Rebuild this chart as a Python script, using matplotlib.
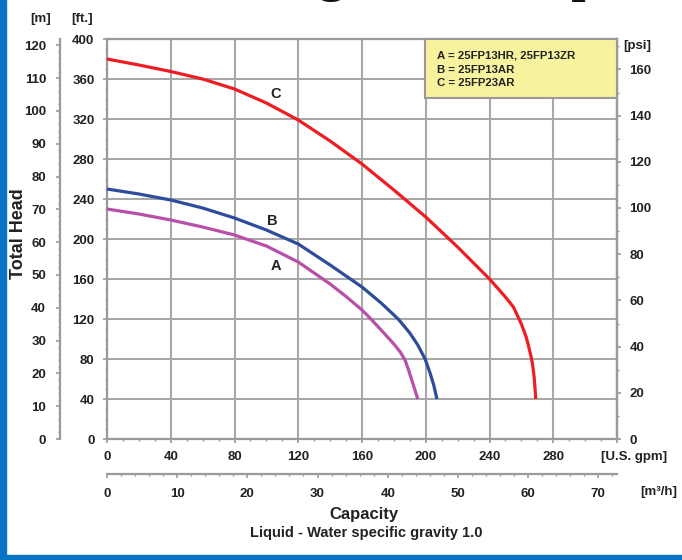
import matplotlib
matplotlib.use('Agg')
import matplotlib.pyplot as plt
from matplotlib.ticker import FixedLocator, FuncFormatter
from matplotlib.patches import Rectangle

plt.rcParams['font.family'] = ['Liberation Sans', 'DejaVu Sans']
plt.rcParams['font.weight'] = 'bold'

# ---- data (capacity in U.S. gpm, total head in ft) ----
gpm_A = [0, 20, 40, 60, 80, 100, 120, 130, 140, 150, 160, 165, 172, 180, 184, 187, 189, 191, 193, 195]
ft_A = [230, 225, 219, 212, 204, 193, 177, 166, 155, 142.5, 129, 121, 109, 95, 87, 79, 70, 60, 50, 40]

gpm_B = [0, 20, 40, 60, 80, 100, 120, 140, 160, 172, 182.7, 190, 195, 199.6, 202.7, 205, 207]
ft_B = [250, 245, 239, 231, 221, 209, 195, 174, 152, 136, 120, 106, 94, 80, 66, 54, 40]

gpm_C = [0, 20, 40, 60, 80, 100, 120, 140, 160, 180, 200, 220, 240, 250,
         255, 260, 263, 264.5, 266, 267, 268, 268.6, 269]
ft_C = [380, 374, 367.5, 360, 350, 336, 319, 298, 275, 249, 222, 192, 160, 142,
        132, 115, 102, 93, 83, 75, 62, 50, 40]

curve_names = ['A', 'B', 'C']
legend_lines = ['A = 25FP13HR, 25FP13ZR', 'B = 25FP13AR', 'C = 25FP23AR']
gpm_ticks = [0, 40, 80, 120, 160, 200, 240, 280]
ft_ticks = [0, 40, 80, 120, 160, 200, 240, 280, 320, 360, 400]
m_ticks = [0, 10, 20, 30, 40, 50, 60, 70, 80, 90, 100, 110, 120]
psi_ticks = [0, 20, 40, 60, 80, 100, 120, 140, 160]
m3h_ticks = [0, 10, 20, 30, 40, 50, 60, 70]

W, H = 682, 560
fig = plt.figure(figsize=(W / 100, H / 100), dpi=100)
fig.patch.set_facecolor('white')

def fx(x):
    return x / W

def fy(y):
    return 1 - y / H

# blue frame strips
fig.patches.append(Rectangle((0, 0), fx(6), 1, transform=fig.transFigure,
                             color='#0A74C4', zorder=0))
fig.patches.append(Rectangle((0, 0), 1, 5 / H, transform=fig.transFigure,
                             color='#0A74C4', zorder=0))

L, R, T, B = 107, 617, 39, 439
ax = fig.add_axes([fx(L), fy(B), (R - L) / W, (B - T) / H])
ax.set_xlim(0, 320)
ax.set_ylim(0, 400)

grey = '#9A9A9A'
txt = '#222222'
FS = 9.5

ax.xaxis.set_major_locator(FixedLocator(gpm_ticks + [320]))
ax.xaxis.set_minor_locator(FixedLocator(list(range(0, 321, 10))))
ax.yaxis.set_major_locator(FixedLocator(ft_ticks))
ax.yaxis.set_minor_locator(FixedLocator(list(range(0, 401, 10))))
ax.xaxis.set_major_formatter(FuncFormatter(
    lambda v, p: f'{int(round(v))}' if round(v) in gpm_ticks else ''))
ax.grid(which='major', color='#A8A8A8', lw=1.5, zorder=1)
ax.set_axisbelow(True)
for s in ax.spines.values():
    s.set_color(grey)
    s.set_linewidth(1.6)
ax.tick_params(axis='both', which='major', direction='out', length=3, width=1.2,
               color=grey, labelcolor=txt, labelsize=FS)
ax.tick_params(axis='both', which='minor', direction='out', length=1.5, width=1.0,
               color=grey)
ax.tick_params(axis='x', which='major', pad=6)
ax.tick_params(axis='y', which='major', pad=6)
ax.tick_params(right=False, top=False, which='both')

# curves
colors = {'A': '#B84FA8', 'B': '#2E4C9C', 'C': '#EE1D23'}
for gx, hy, name in [(gpm_A, ft_A, 'A'), (gpm_B, ft_B, 'B'), (gpm_C, ft_C, 'C')]:
    ax.plot(gx, hy, color=colors[name], lw=2.3, zorder=3, solid_capstyle='butt',
            solid_joinstyle='round')

ax.text(106, 173, 'A', ha='center', va='center', fontsize=10.5, color=txt, zorder=4)
ax.text(104, 218, 'B', ha='center', va='center', fontsize=10.5, color=txt, zorder=4)
ax.text(106, 345, 'C', ha='center', va='center', fontsize=10.5, color=txt, zorder=4)

# legend box
bx0 = (425 - L) / (R - L)
by0 = (B - 98) / (B - T)
ax.add_patch(Rectangle((bx0, by0), 1 - bx0, 1 - by0, transform=ax.transAxes,
                       facecolor='#F6F29E', edgecolor=grey, lw=1.5, zorder=5,
                       clip_on=False))
for i, line in enumerate(legend_lines):
    fig.text(fx(437), fy(56 + 13.6 * i), line, ha='left', va='center',
             fontsize=8.2, color=txt, zorder=6)

# psi axis (right)
psi = ax.secondary_yaxis('right', functions=(lambda f: f / 2.31, lambda p: p * 2.31))
psi.yaxis.set_major_locator(FixedLocator(psi_ticks))
psi.yaxis.set_minor_locator(FixedLocator(list(range(0, 171, 10))))
psi.tick_params(which='major', direction='out', length=3, width=1.2, color=grey,
                labelcolor=txt, labelsize=FS, pad=6)
psi.tick_params(which='minor', direction='out', length=1.5, width=1.0, color=grey)

# meter axis (far left)
mtr = ax.secondary_yaxis((60 - L) / (R - L),
                         functions=(lambda f: f * 0.3048, lambda m: m / 0.3048))
mtr.yaxis.set_major_locator(FixedLocator(m_ticks))
mtr.yaxis.set_minor_locator(FixedLocator(list(range(0, 121, 2))))
mtr.tick_params(which='major', direction='out', length=3, width=1.2, color=grey,
                labelcolor=txt, labelsize=FS, pad=7)
mtr.tick_params(which='minor', direction='out', length=1.5, width=1.0, color=grey)

# m3/h axis (second bottom)
m3 = ax.secondary_xaxis(-(474 - B) / (B - T),
                        functions=(lambda g: g * 0.22712, lambda q: q / 0.22712))
m3.xaxis.set_major_locator(FixedLocator(m3h_ticks))
m3.xaxis.set_minor_locator(FixedLocator(list(range(0, 73, 2))))
m3.tick_params(which='major', direction='out', length=3, width=1.2, color=grey,
               labelcolor=txt, labelsize=FS, pad=7)
m3.tick_params(which='minor', direction='out', length=1.5, width=1.0, color=grey)

for sec in (psi, mtr, m3):
    for s in sec.spines.values():
        s.set_color(grey)
        s.set_linewidth(1.6)
for a in (ax.xaxis, ax.yaxis, psi.yaxis, mtr.yaxis, m3.xaxis):
    a.get_offset_text().set_visible(False)

# axis unit labels
fig.text(fx(41), fy(19), '[m]', ha='center', va='center', fontsize=FS, color=txt)
fig.text(fx(82), fy(19), '[ft.]', ha='center', va='center', fontsize=FS, color=txt)
fig.text(fx(623), fy(46), '[psi]', ha='left', va='center', fontsize=FS, color=txt)
fig.text(fx(601), fy(457), '[U.S. gpm]', ha='left', va='center', fontsize=FS, color=txt)
fig.text(fx(640), fy(492), '[m³/h]', ha='left', va='center', fontsize=FS, color=txt)
fig.text(fx(19), fy(234), 'Total Head', rotation=90, ha='center', va='center',
         fontsize=13, color=txt)
fig.text(fx(364), fy(515), 'Capacity', ha='center', va='center', fontsize=12, color=txt)
fig.text(fx(366), fy(533), 'Liquid - Water specific gravity 1.0', ha='center',
         va='center', fontsize=10.5, color=txt)

# title (cut off at the top of the picture, as in the reference)
fig.text(fx(196), fy(-9), 'Ratings at 3450 rpm', ha='left', va='baseline',
         fontsize=37, family='Liberation Serif', weight='bold', color='#111111')

fig.savefig('out.png', dpi=100)
